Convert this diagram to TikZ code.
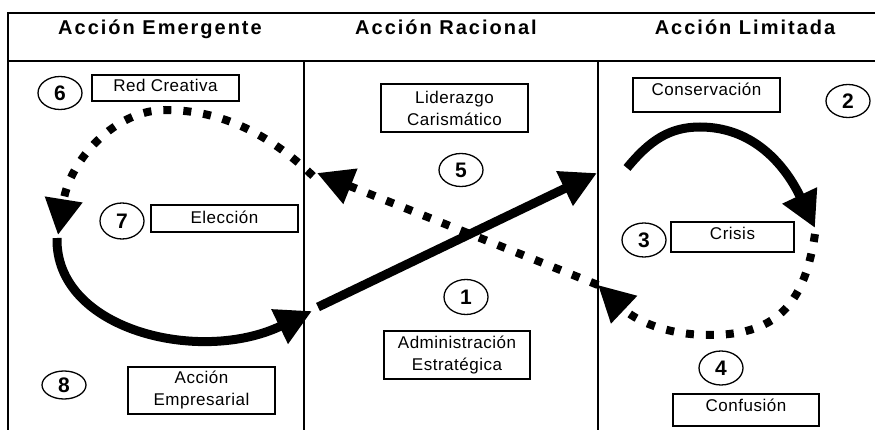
\documentclass[tikz,border=0pt]{standalone}
\usepackage{fontspec}
\setmainfont{Liberation Sans}
\newfontfamily\hdrfont{Liberation Sans}[LetterSpace=10]
\newfontfamily\boxfont{Liberation Sans}[LetterSpace=3]
\usetikzlibrary{arrows.meta,shapes.geometric}
\tikzset{
  frameline/.style={line width=1.5pt},
  hdr/.style={font=\hdrfont\bfseries\fontsize{20}{22}\selectfont, inner sep=0pt, anchor=base},
  lbl/.style={draw, line width=1.3pt, inner sep=0pt, align=center,
    font=\boxfont\fontsize{17}{22}\selectfont},
  one/.style={text height=12.2pt, text depth=#1},
  num/.style={draw, ellipse, line width=1.3pt, inner sep=0pt,
    minimum width=44pt, minimum height=33pt,
    font=\bfseries\fontsize{21}{21}\selectfont},
  solidarrow/.style={line width=9pt, -{Triangle[length=36pt,width=36pt]}},
  dotarrow/.style={line width=8pt, dash pattern=on 8pt off 12pt,
    -{Triangle[length=36pt,width=36pt]}},
}
\begin{document}
\begin{tikzpicture}[x=1pt,y=-1pt]
\useasboundingbox (0,0) rectangle (875,430);
% frame
\draw[frameline] (885,13) -- (8,13) -- (8,440);
\draw[line width=2.2pt] (8,61) -- (885,61);
\draw[frameline] (304,61) -- (304,440);
\draw[frameline] (598,61) -- (598,440);
% headers
\node[hdr] (h1) at (160,35) {Acción Emergente};
\node[hdr] (h2) at (446,35) {Acción Racional};
\node[hdr] (h3) at (745,35) {Acción Limitada};
% boxes
\node[lbl, one=5pt, minimum width=147pt, minimum height=26pt] (redc) at (165.5,88) {Red Creativa};
\node[lbl, one=3pt, minimum width=147pt, minimum height=27pt] (elec) at (224.5,218.5) {Elección};
\node[lbl, minimum width=147pt, minimum height=48pt] (lider) at (454.5,108) {Liderazgo\\Carismático};
\node[lbl, minimum width=146pt, minimum height=48pt] (admin) at (457,355) {Administración\\Estratégica};
\node[lbl, one=12pt, minimum width=147pt, minimum height=34pt] (conser) at (706.5,95) {Conservación};
\node[lbl, one=8pt, minimum width=123pt, minimum height=30pt] (crisis) at (732.5,237) {Crisis};
\node[lbl, minimum width=147pt, minimum height=47pt] (empres) at (201.5,390.5) {Acción\\Empresarial};
\node[lbl, one=10pt, minimum width=146pt, minimum height=32pt] (confus) at (746,410) {Confusión};
% numbers
\node[num] (c6) at (60,93) {6};
\node[num, minimum height=36pt] (c7) at (122,221) {7};
\node[num] (c5) at (461,170) {5};
\node[num, minimum height=35pt] (c1) at (466,297) {1};
\node[num] (c2) at (848,101) {2};
\node[num, minimum height=34pt] (c3) at (644,240) {3};
\node[num, minimum height=34pt] (c4) at (721,368) {4};
\node[num, minimum height=28pt] (c8) at (64,385) {8};
% connector end points
\coordinate (s1a) at (57,238);  \coordinate (s1b) at (312,311);
\coordinate (s2a) at (318,307); \coordinate (s2b) at (597,173);
\coordinate (s3a) at (627,168); \coordinate (s3m) at (700,127); \coordinate (s3b) at (815,228);
\coordinate (d1a) at (815,234); \coordinate (d1m) at (710,335); \coordinate (d1b) at (598,285);
\coordinate (d2b) at (317,173);
\coordinate (d3a) at (313,176); \coordinate (d3m) at (165,110); \coordinate (d3b) at (58,235);
% solid loop
\draw[solidarrow] (s1a) .. controls (55,330) and (200,365) .. (s1b);
\draw[solidarrow] (s2a) -- (s2b);
\draw[solidarrow] (s3a) .. controls (650,140) and (670,127) .. (s3m)
  .. controls (760,127) and (790,175) .. (s3b);
% dotted loop
\draw[dotarrow] (d1a) .. controls (805,300) and (780,335) .. (d1m)
  .. controls (665,335) and (635,320) .. (d1b);
\draw[dotarrow] (d1b) -- (d2b);
\draw[dotarrow] (d3a) .. controls (260,125) and (210,110) .. (d3m)
  .. controls (115,110) and (70,160) .. (d3b);
\end{tikzpicture}
\end{document}
